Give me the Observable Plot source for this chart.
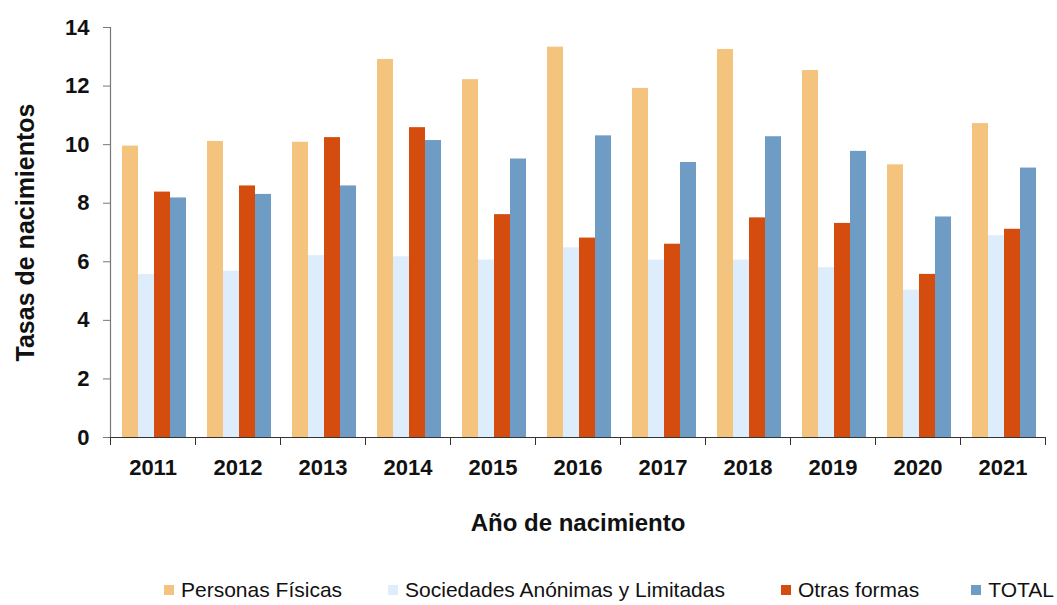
<!DOCTYPE html>
<html>
<head>
<meta charset="utf-8">
<script src="https://cdn.jsdelivr.net/npm/d3@7"></script>
<script src="https://cdn.jsdelivr.net/npm/@observablehq/plot@0.6"></script>
<style>
  html, body { margin: 0; padding: 0; background: #fff; }
  #chart { width: 1057px; height: 605px; position: relative; font-family: "Liberation Sans", Arial, sans-serif; overflow: hidden; }
  .legend { display: flex; flex-wrap: nowrap; align-items: center; padding-left: 164px; margin-top: 28px; font-size: 21px; color: #111; white-space: nowrap; width: 1057px; box-sizing: border-box; }
  .legend .item { display: flex; align-items: center; flex-shrink: 0; }
  .legend .sw { width: 10px; height: 10px; margin-right: 7px; flex-shrink: 0; }
</style>
</head>
<body>
<div id="chart"></div>
<script>
const years = ["2011","2012","2013","2014","2015","2016","2017","2018","2019","2020","2021"];
const series = ["Personas Físicas","Sociedades Anónimas y Limitadas","Otras formas","TOTAL"];
const personasFisicas = [9.95,10.11,10.08,12.91,12.22,13.33,11.92,13.25,12.53,9.31,10.72];
const sociedades = [5.57,5.68,6.21,6.17,6.06,6.48,6.06,6.06,5.80,5.03,6.89];
const otrasFormas = [8.38,8.59,10.24,10.58,7.61,6.81,6.60,7.50,7.31,5.57,7.11];
const total = [8.18,8.30,8.59,10.14,9.51,10.30,9.39,10.27,9.77,7.53,9.20];
const colors = ["#F4C47F","#DEEDFC","#D54C0F","#6E9CC5"];
const yTicks = [0,2,4,6,8,10,12,14];

const valuesBySeries = [personasFisicas, sociedades, otrasFormas, total];
const data = [];
years.forEach((yr, i) => {
  series.forEach((s, j) => data.push({year: yr, series: s, value: valuesBySeries[j][i]}));
});

const plot = Plot.plot({
  width: 1057,
  height: 550,
  marginLeft: 107,
  marginRight: 10,
  marginTop: 27,
  marginBottom: 113,
  style: {fontFamily: '"Liberation Sans", Arial, sans-serif', background: "white", color: "#111"},
  fx: {domain: years, padding: 0},
  x: {domain: series, paddingInner: 0, paddingOuter: 0.6, align: 0.55, axis: null},
  y: {domain: [0, 14]},
  color: {domain: series, range: colors},
  marks: [
    Plot.barY(data, {fx: "year", x: "series", y: "value", fill: "series"}),
    Plot.ruleY([0], {stroke: "#333", strokeWidth: 1.2}),
    Plot.frame({anchor: "left", facetAnchor: "left", stroke: "#777", strokeWidth: 1.2}),
    Plot.frame({anchor: "left", insetTop: 410, insetBottom: -7, stroke: "#333"}),
    Plot.frame({anchor: "right", facetAnchor: "right", insetTop: 410, insetBottom: -7, stroke: "#333"}),
    Plot.axisY({ticks: yTicks, tickSize: 7, tickPadding: 14, fontSize: 22, fontWeight: "bold", stroke: "#777", label: null}),
    Plot.axisY({ticks: [], label: "Tasas de nacimientos", labelAnchor: "center", labelOffset: 94, labelArrow: "none", fontSize: 25, fontWeight: "bold"}),
    Plot.axisFx({anchor: "bottom", tickSize: 0, tickPadding: 22, fontSize: 22, fontWeight: "bold", label: null}),
    Plot.axisFx({anchor: "bottom", ticks: [], label: "Año de nacimiento", labelAnchor: "center", labelOffset: 93, labelArrow: "none", fontSize: 24, fontWeight: "bold"})
  ]
});

const chart = document.getElementById("chart");
chart.appendChild(plot);

const legend = document.createElement("div");
legend.className = "legend";
const gaps = [46, 56, 52, 0];
series.forEach((s, i) => {
  const item = document.createElement("div");
  item.className = "item";
  item.style.marginRight = gaps[i] + "px";
  const sw = document.createElement("span");
  sw.className = "sw";
  sw.style.background = colors[i];
  const t = document.createElement("span");
  t.textContent = s;
  item.appendChild(sw);
  item.appendChild(t);
  legend.appendChild(item);
});
chart.appendChild(legend);
</script>
</body>
</html>
